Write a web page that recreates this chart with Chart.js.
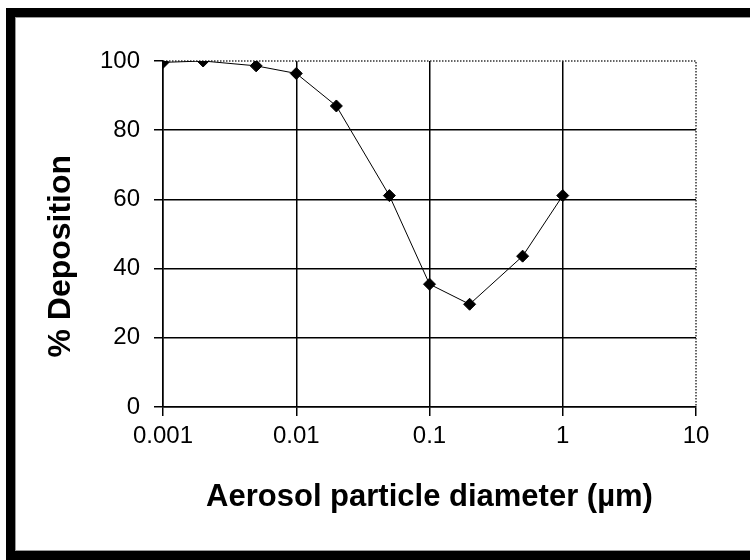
<!DOCTYPE html>
<html>
<head>
<meta charset="utf-8">
<script src="https://cdn.jsdelivr.net/npm/chart.js@4.4.0/dist/chart.umd.min.js"></script>
<style>
  body { margin: 0; overflow: hidden; background: #fff; }
  #wrap { position: relative; width: 750px; height: 560px; overflow: hidden; }
  #frame {
    position: absolute; left: 6px; top: 8px; width: 800px; height: 534px;
    border-top: 9px solid #000; border-left: 9px solid #000; border-bottom: 9px solid #000;
    pointer-events: none;
  }
  #frame div {
    position: absolute; left: 0; top: 0; right: 0; bottom: 0;
    border-top: 1px solid #9a9a9a; border-left: 1px solid #9a9a9a; border-bottom: 1px solid #9a9a9a;
  }
</style>
</head>
<body>
<div id="wrap">
  <canvas id="deposition_chart" width="750" height="560"></canvas>
  <div id="frame"><div></div></div>
</div>
<script>
// Diametro das particulas (um) e % de deposicao
var diameters = [0.001, 0.002, 0.005, 0.01, 0.02, 0.05, 0.1, 0.2, 0.5, 1];
var deposition = [99.6, 100, 98.6, 96.4, 87, 61.1, 35.5, 29.7, 43.6, 61.1];

// Ticks do eixo x (log)
var x_ticks = [0.001, 0.01, 0.1, 1, 10];
var x_tick_labels = ['0.001', '0.01', '0.1', '1', '10'];

var points = [];
for (var i = 0; i < diameters.length; i++) {
    points.push({x: diameters[i], y: deposition[i]});
}

Chart.defaults.font.family = 'Arial, "Liberation Sans", sans-serif';
Chart.defaults.color = '#000';

// Borda pontilhada em cima e na direita
var dotted_frame = {
    id: 'dotted_frame',
    beforeDatasetsDraw: function(chart) {
        var a = chart.chartArea;
        var c = chart.ctx;
        c.save();
        c.strokeStyle = '#333';
        c.lineWidth = 1.5;
        c.setLineDash([1.5, 1.5]);
        c.beginPath();
        c.moveTo(a.left, a.top);
        c.lineTo(a.right, a.top);
        c.lineTo(a.right, a.bottom);
        c.stroke();
        c.restore();
    }
};

var ctx = document.getElementById('deposition_chart');
var deposition_chart = new Chart(ctx, {
    type: 'line',
    data: {
        datasets: [{
            label: '% Deposition',
            data: points,
            borderColor: '#000',
            borderWidth: 1,
            backgroundColor: '#000',
            pointStyle: 'rectRot',
            pointRadius: 6,
            pointBorderWidth: 1,
            tension: 0
        }]
    },
    options: {
        responsive: false,
        animation: false,
        layout: { padding: { top: 61, right: 54, left: 0, bottom: 0 } },
        plugins: {
            legend: { display: false },
            tooltip: { enabled: false }
        },
        scales: {
            x: {
                type: 'logarithmic',
                min: 0.001,
                max: 10,
                afterBuildTicks: function(scale) {
                    scale.ticks = x_ticks.map(function(v) { return {value: v}; });
                },
                afterFit: function(scale) { scale.height = 153; },
                ticks: {
                    padding: 6,
                    font: { size: 24 },
                    callback: function(value, index) { return x_tick_labels[index]; }
                },
                grid: {
                    color: function(c) { return c.tick && c.tick.value === 10 ? 'rgba(0,0,0,0)' : '#000'; },
                    lineWidth: 1.5,
                    tickColor: '#000',
                    tickLength: 9
                },
                border: { color: '#000', width: 1.5 },
                title: {
                    display: true,
                    text: 'Aerosol particle diameter (µm)',
                    font: { size: 31, weight: 'bold' },
                    padding: { top: 0, bottom: 44 }
                }
            },
            y: {
                min: 0,
                max: 100,
                afterFit: function(scale) { scale.width = 163; },
                ticks: {
                    stepSize: 20,
                    padding: 14,
                    font: { size: 24 }
                },
                grid: {
                    color: function(c) { return c.tick && c.tick.value === 100 ? 'rgba(0,0,0,0)' : '#000'; },
                    lineWidth: 1.5,
                    tickColor: '#000',
                    tickLength: 9
                },
                border: { color: '#000', width: 1.5 },
                title: {
                    display: true,
                    // espacos no fim para descer o titulo como no original
                    text: '% Deposition     ',
                    font: { size: 32, weight: 'bold' },
                    padding: { top: 42, bottom: 0 }
                }
            }
        }
    },
    plugins: [dotted_frame]
});
</script>
</body>
</html>
